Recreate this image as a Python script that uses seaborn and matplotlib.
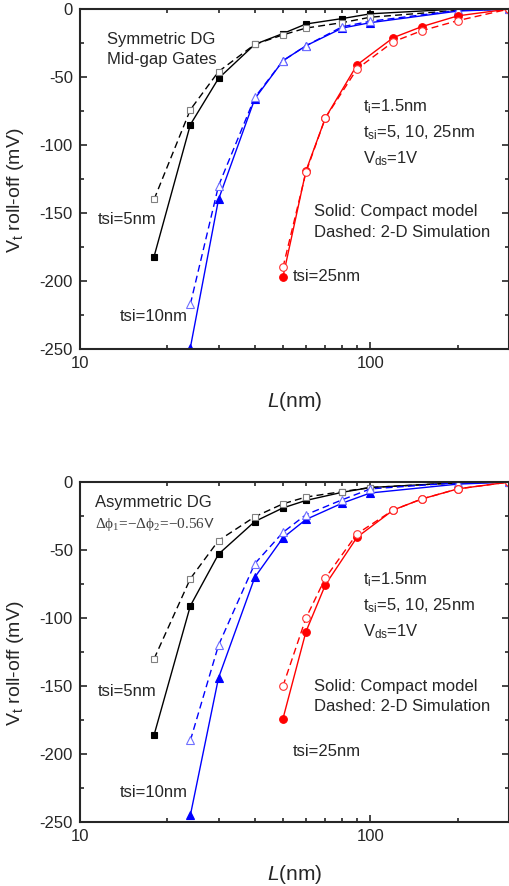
import numpy as np
import pandas as pd
import matplotlib
matplotlib.use("Agg")
import matplotlib.pyplot as plt
import seaborn as sns
from matplotlib.ticker import FixedLocator, NullFormatter, FixedFormatter

# channel lengths (nm)
L_5 = [18, 24, 30, 40, 50, 60, 80, 100, 200, 300]
L_10 = [24, 30, 40, 50, 60, 80, 100, 200, 300]
L_25 = [50, 60, 70, 90, 120, 150, 200, 300]

# Vt roll-off (mV), symmetric DG
sym_5_model = [-182, -85, -51, -26, -18, -11, -7, -3.5, 0, 0]
sym_5_sim = [-140, -74, -46, -26, -19, -14, -10, -6, -1, 0]
sym_10_model = [-249, -140, -66, -38, -27, -14, -10, -1.5, 0]
sym_10_sim = [-217, -130, -65, -38, -27, -13, -9, -1, 0]
sym_25_model = [-197, -119, -80, -41, -21, -13, -5, 0]
sym_25_sim = [-190, -120, -80, -44, -24, -16, -8.5, 0]

# Vt roll-off (mV), asymmetric DG
asym_5_model = [-186, -91, -53, -29, -19, -13.5, -7.5, -4, -0.5, 0]
asym_5_sim = [-130, -71, -43, -25.5, -16, -11, -7, -4, -0.5, 0]
asym_10_model = [-245, -144, -70, -41, -27.5, -15.5, -8, -1.5, 0]
asym_10_sim = [-190, -120, -60, -37, -24, -13, -5, -0.5, 0]
asym_25_model = [-174, -110, -75.5, -40.5, -20.5, -12.5, -5, 0]
asym_25_sim = [-150, -100, -70.5, -38, -20.5, -12.5, -5, 0]

FONT = ["Liberation Sans", "DejaVu Sans"]
sns.set_style("ticks")
plt.rcParams["font.family"] = FONT
plt.rcParams["mathtext.fontset"] = "custom"
plt.rcParams["mathtext.rm"] = "Liberation Sans"
plt.rcParams["mathtext.it"] = "Liberation Sans:italic"
plt.rcParams["mathtext.default"] = "regular"
plt.rcParams["axes.unicode_minus"] = False

fig = plt.figure(figsize=(5.09, 8.86), dpi=100)
ax_top = fig.add_axes([0.157, 0.6061, 0.843, 0.3837])
ax_bot = fig.add_axes([0.157, 0.0722, 0.843, 0.3837])


def draw(ax, L, model, sim, color, edge, marker, ms):
    sns.lineplot(x=L, y=model, ax=ax, color=color, marker=marker, markersize=ms,
                 markerfacecolor=color, markeredgecolor=color, markeredgewidth=0.8,
                 linewidth=1.0, estimator=None, sort=False, legend=False)
    sns.lineplot(x=L, y=sim, ax=ax, color=color, marker=marker, markersize=ms,
                 markerfacecolor="white", markeredgecolor=edge, markeredgewidth=0.8,
                 linewidth=1.0, linestyle=(0, (5, 3)), estimator=None, sort=False,
                 legend=False)


def style(ax):
    ax.set_xscale("log")
    ax.set_xlim(10, 300)
    ax.set_ylim(-250, 0)
    ax.xaxis.set_major_locator(FixedLocator([10, 100]))
    ax.xaxis.set_major_formatter(FixedFormatter(["10", "100"]))
    ax.xaxis.set_minor_locator(FixedLocator([20, 30, 40, 50, 60, 70, 80, 90, 200, 300]))
    ax.xaxis.set_minor_formatter(NullFormatter())
    ax.yaxis.set_major_locator(FixedLocator([0, -50, -100, -150, -200, -250]))
    ax.yaxis.set_minor_locator(FixedLocator([-25, -75, -125, -175, -225]))
    ax.tick_params(which="both", direction="in", top=True, right=True,
                   labelsize=12, width=1.2)
    ax.tick_params(which="major", length=5, pad=5)
    ax.tick_params(which="minor", length=3)
    for s in ax.spines.values():
        s.set_linewidth(1.5)
    ax.set_xlabel(r"$\mathit{L}$(nm)", fontsize=15, labelpad=14)
    ax.set_ylabel(r"V$_t$ roll-off (mV)", fontsize=14)
    ax.yaxis.set_label_coords(-0.125, 0.468)


def notes(ax, y5, y10, y25, y_solid):
    kw = dict(transform=ax.transData, fontsize=12, va="center")
    ax.text(18.4, y5, "tsi=5nm", ha="right", **kw)
    ax.text(23.5, y10, "tsi=10nm", ha="right", **kw)
    ax.text(54, y25, "tsi=25nm", ha="left", **kw)
    ax.text(94, -72, r"t$_i$=1.5nm", **kw)
    ax.text(94, -91, r"t$_{si}$=5, 10, 25nm", **kw)
    ax.text(94, -110, r"V$_{ds}$=1V", **kw)
    ax.text(64, y_solid, "Solid: Compact model", **kw)
    ax.text(64, y_solid - 15, "Dashed: 2-D Simulation", **kw)


for ax in (ax_top, ax_bot):
    style(ax)

draw(ax_top, L_5, sym_5_model, sym_5_sim, "black", "#808080", "s", 4.5)
draw(ax_top, L_10, sym_10_model, sym_10_sim, "blue", "#6f6fff", "^", 6)
draw(ax_top, L_25, sym_25_model, sym_25_sim, "red", "#ff3030", "o", 5.5)
draw(ax_bot, L_5, asym_5_model, asym_5_sim, "black", "#808080", "s", 4.5)
draw(ax_bot, L_10, asym_10_model, asym_10_sim, "blue", "#6f6fff", "^", 6)
draw(ax_bot, L_25, asym_25_model, asym_25_sim, "red", "#ff3030", "o", 5.5)

notes(ax_top, -155, -226, -197, -149)
notes(ax_bot, -154, -228, -198, -150)

ax_top.text(0.063, 0.91, "Symmetric DG", transform=ax_top.transAxes, fontsize=12, va="center")
ax_top.text(0.063, 0.852, "Mid-gap Gates", transform=ax_top.transAxes, fontsize=12, va="center")
ax_bot.text(0.035, 0.94, "Asymmetric DG", transform=ax_bot.transAxes, fontsize=12, va="center")
ax_bot.text(0.035, 0.875, r"$\Delta\phi_1$=$-\Delta\phi_2$=$-$0.56$\mathsf{V}$",
            transform=ax_bot.transAxes, fontsize=11, va="center", color="#404040",
            family=["Liberation Serif", "DejaVu Serif"], math_fontfamily="stix")

fig.savefig("out.png", dpi=100)
